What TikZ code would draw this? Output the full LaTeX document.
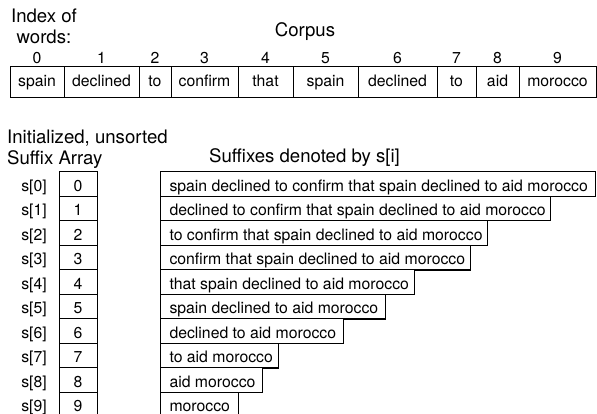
\documentclass[tikz,border=0pt]{standalone}
\usepackage{fontspec}
\setmainfont{TeX Gyre Heros}
\usetikzlibrary{shadows}

\tikzset{
  box/.style={draw, line width=1pt, inner sep=0pt},
  word/.style={box, minimum height=30.5pt, text height=12pt, text depth=3pt},
  slot/.style={box, minimum width=38pt, minimum height=24.5pt,
    text height=14.5pt, text depth=0pt},
  suffix/.style={box, fill=white, anchor=west, inner xsep=9pt,
    minimum height=24.5pt, text height=14.5pt, text depth=0pt,
    drop shadow={shadow xshift=0.8pt, shadow yshift=-0.8pt, fill=black, opacity=1}},
  title/.style={font=\fontsize{18.6}{21}\selectfont, inner sep=0pt}
}

\begin{document}
\begin{tikzpicture}[x=1pt, y=-1pt, font=\fontsize{15.8}{18}\selectfont]
  \useasboundingbox (0,0) rectangle (597,414);

  % headings
  \node[title, align=center, anchor=north] (idxhead) at (44, 9) {Index of\\words:};
  \node[title, anchor=base] (corphead) at (305, 36.7) {Corpus};
  \node[title, align=left, anchor=north west] (arrhead) at (7, 129.5)
    {Initialized, unsorted\\Suffix Array};
  \node[title, anchor=base] (sufhead) at (304.5, 163) {Suffixes denoted by s[i]};

  % corpus with word indices
  \foreach \l/\r/\t [count=\i from 0] in {10/64/spain, 64/139/declined,
      139/171/to, 171/238/confirm, 238/293/that, 293/358/spain,
      358/437/declined, 437/476/to, 476/519/aid, 519/596/morocco}{
    \pgfmathsetmacro\w{\r-\l}
    \node[word, minimum width=\w pt] (w\i) at ({(\l+\r)/2}, 82.2) {\t};
    \node[anchor=base, inner sep=0pt] (n\i) at ({(\l+\r)/2}, 64) {\i};
  }

  % suffix array and the suffixes
  \foreach \r/\t [count=\i from 0] in {
      595/spain declined to confirm that spain declined to aid morocco,
      550/declined to confirm that spain declined to aid morocco,
      487/to confirm that spain declined to aid morocco,
      470/confirm that spain declined to aid morocco,
      414/that spain declined to aid morocco,
      385/spain declined to aid morocco,
      343/declined to aid morocco,
      278/to aid morocco,
      262/aid morocco,
      238/morocco}{
    \pgfmathsetmacro\y{171.7+24.5*\i+12.25}
    \pgfmathsetmacro\w{\r-160-18}
    \node[slot] (a\i) at (78, \y) {\i};
    \node[anchor=east, inner sep=0pt, text height=14.5pt, text depth=0pt]
      (s\i) at (47, \y) {s[\i]};
    \node[suffix] (x\i) at (160, \y) {\makebox[\w pt][l]{\t}};
  }

\end{tikzpicture}
\end{document}
